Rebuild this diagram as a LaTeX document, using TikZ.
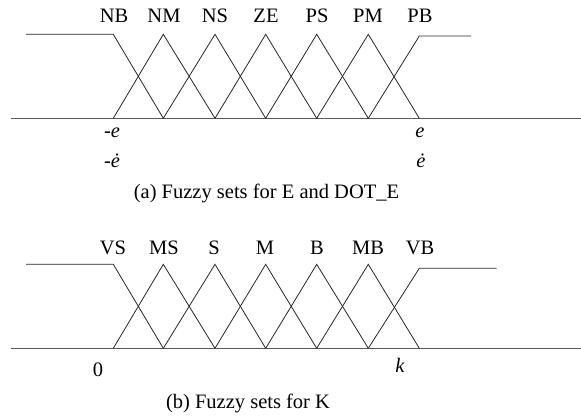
\documentclass[tikz,border=0pt]{standalone}
\usepackage{fontspec}
\setmainfont{Liberation Serif}
\begin{document}
\begin{tikzpicture}[x=1pt,y=-1pt,
  axis/.style={draw=black!65,line width=1pt},
  mf/.style={draw=black!85,line width=0.8pt},
  setlabel/.style={font=\fontsize{20.5}{21}\selectfont,inner sep=0pt},
  ticklabel/.style={font=\fontsize{20.5}{21}\selectfont\itshape,inner sep=0pt},
  caption/.style={font=\fontsize{20.5}{21}\selectfont,inner sep=0pt}]
\useasboundingbox (0,0) rectangle (581,416);

% ---------- (a) membership functions of E and DOT_E ----------
\draw[axis] (11,118.3) -- (581,118.3);
\draw[mf] (26,34.3) -- (113.3,34.3) -- (163.3,118.3);
\draw[mf] (113.3,118.3) -- (163.3,34.3) -- (215,118.3);
\draw[mf] (163.3,118.3) -- (215,34.3) -- (265.7,118.3);
\draw[mf] (215,118.3) -- (265.7,34.3) -- (316.7,118.3);
\draw[mf] (265.7,118.3) -- (316.7,34.3) -- (368.3,118.3);
\draw[mf] (316.7,118.3) -- (368.3,34.3) -- (419.3,118.3);
\draw[mf] (368.3,118.3) -- (419.3,36) -- (471,36);

\node[setlabel] (nb) at (114,16) {NB};
\node[setlabel] (nm) at (164,16) {NM};
\node[setlabel] (ns) at (215,16) {NS};
\node[setlabel] (ze) at (266,16) {ZE};
\node[setlabel] (ps) at (317,16) {PS};
\node[setlabel] (pm) at (368,16) {PM};
\node[setlabel] (pb) at (420,16) {PB};

\node[ticklabel] (eneg) at (112,133) {-e};
\node[ticklabel] (epos) at (420,133) {e};
\node[ticklabel] (edneg) at (112,161) {-\.{e}};
\node[ticklabel] (edpos) at (421,161) {\.{e}};
\node[caption] (capa) at (266.5,193) {(a) Fuzzy sets for E and DOT\_E};

% ---------- (b) membership functions of K ----------
\draw[axis] (11,348.3) -- (581,348.3);
\draw[mf] (26,264.3) -- (113.3,264.3) -- (163.3,348.3);
\draw[mf] (113.3,348.3) -- (163.3,264.3) -- (215,348.3);
\draw[mf] (163.3,348.3) -- (215,264.3) -- (265.7,348.3);
\draw[mf] (215,348.3) -- (265.7,264.3) -- (316.7,348.3);
\draw[mf] (265.7,348.3) -- (316.7,264.3) -- (368.3,348.3);
\draw[mf] (316.7,348.3) -- (368.3,264.3) -- (419.3,348.3);
\draw[mf] (368.3,348.3) -- (419.3,268.3) -- (496.7,268.3);

\node[setlabel] (vs) at (113,248) {VS};
\node[setlabel] (ms) at (164,248) {MS};
\node[setlabel] (s) at (214,248) {S};
\node[setlabel] (m) at (265,248) {M};
\node[setlabel] (b) at (317,248) {B};
\node[setlabel] (mb) at (368,248) {MB};
\node[setlabel] (vb) at (420,248) {VB};

\node[setlabel] (zero) at (98,370) {0};
\node[ticklabel] (kmax) at (400,365) {k};
\node[caption] (capb) at (248,403) {(b) Fuzzy sets for K};
\end{tikzpicture}
\end{document}
